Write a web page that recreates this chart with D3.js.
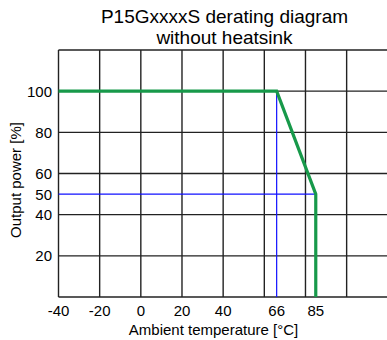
<!DOCTYPE html>
<html>
<head>
<meta charset="utf-8">
<script src="https://cdn.jsdelivr.net/npm/d3@7"></script>
<style>
  html, body { margin: 0; padding: 0; background: #fff; }
  svg { display: block; font-family: "Liberation Sans", Arial, sans-serif; }
</style>
</head>
<body>
<svg id="chart" width="387" height="340"></svg>
<script>
// derating curve: temperature [°C] vs output power [%]
const curveTemp = [-40, 66, 85, 85];
const curvePower = [100, 100, 50, 0];
// blue helper lines (derating points)
const markTemp = [66, 85];
const markPower = [100, 50];
const xGrid = [-40, -20, 0, 20, 40, 60, 80, 100, 120];
const yGrid = [0, 20, 40, 60, 80, 100, 120];
const xTickLabels = [-40, -20, 0, 20, 40, 66, 85];
const yTickLabels = [20, 40, 50, 60, 80, 100];
const titleLines = ["P15GxxxxS derating diagram", "without heatsink"];

const svg = d3.select("#chart");
const x = d3.scaleLinear().domain([-40, 120]).range([58.5, 387.8]);
const y = d3.scaleLinear().domain([0, 120]).range([297, 50]);

const grid = svg.append("g").attr("stroke", "#222").attr("stroke-width", 1.4);
grid.selectAll("line.v").data(xGrid).join("line").attr("class", "v")
  .attr("x1", d => x(d)).attr("x2", d => x(d)).attr("y1", y(0)).attr("y2", y(120));
grid.selectAll("line.h").data(yGrid).join("line").attr("class", "h")
  .attr("y1", d => y(d)).attr("y2", d => y(d)).attr("x1", x(-40)).attr("x2", x(120));

// blue guide lines
const blue = svg.append("g").attr("stroke", "#1010ff").attr("stroke-width", 1.2);
blue.append("line").attr("x1", x(markTemp[0])).attr("x2", x(markTemp[0])).attr("y1", y(0)).attr("y2", y(markPower[0]));
blue.append("line").attr("x1", x(-40)).attr("x2", x(markTemp[1])).attr("y1", y(markPower[1])).attr("y2", y(markPower[1]));

const pts = curveTemp.map((t, i) => [t, curvePower[i]]);
svg.append("path").datum(pts)
  .attr("fill", "none").attr("stroke", "#17994a").attr("stroke-width", 3.2).attr("stroke-linejoin", "miter")
  .attr("d", d3.line().x(d => x(d[0])).y(d => y(d[1])));

// tick labels
svg.append("g").selectAll("text").data(xTickLabels).join("text")
  .attr("x", d => x(d)).attr("y", 316).attr("text-anchor", "middle")
  .attr("font-size", 15).attr("fill", "#000").text(d => d);
svg.append("g").selectAll("text").data(yTickLabels).join("text")
  .attr("x", 52).attr("y", d => y(d) + 5.5).attr("text-anchor", "end")
  .attr("font-size", 15).attr("fill", "#000").text(d => d);

// axis titles
svg.append("text").attr("x", 213.5).attr("y", 335).attr("text-anchor", "middle")
  .attr("font-size", 15).attr("fill", "#000").text("Ambient temperature [°C]");
svg.append("text").attr("transform", "translate(21,180) rotate(-90)").attr("text-anchor", "middle")
  .attr("font-size", 15).attr("fill", "#000").text("Output power [%]");

svg.append("g").selectAll("text").data(titleLines).join("text")
  .attr("x", 224.5).attr("y", (d, i) => 23 + i * 21).attr("text-anchor", "middle")
  .attr("font-size", 19).attr("fill", "#000").text(d => d);
</script>
</body>
</html>
